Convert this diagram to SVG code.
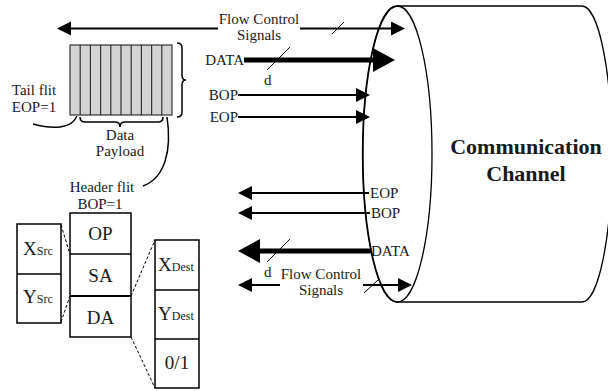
<svg xmlns="http://www.w3.org/2000/svg" width="608" height="391" viewBox="0 0 608 391">
<style>
text{font-family:"Liberation Serif","Times New Roman",serif;fill:#1a1a1a;font-size:15px}
.b{font-weight:bold;font-size:22px}
.m{text-anchor:middle}
.e{text-anchor:end}
.big{font-size:19px}
.sub{font-size:12px}
.ln{stroke:#000;stroke-width:2;fill:none}
.th{stroke:#000;stroke-width:5;fill:none}
.sl{stroke:#000;stroke-width:1;fill:none}
.box{fill:#fff;stroke:#000;stroke-width:1.5}
.dash{stroke:#000;stroke-width:1;stroke-dasharray:3,2;fill:none}
.cv{stroke:#000;stroke-width:1.5;fill:none}
</style>
<defs>
<marker id="ah" markerUnits="userSpaceOnUse" markerWidth="16" markerHeight="16" refX="0" refY="7" orient="auto"><path d="M0,0 L14,7 L0,14 z" fill="#000"/></marker>
<marker id="ahb" markerUnits="userSpaceOnUse" markerWidth="24" markerHeight="24" refX="0" refY="12" orient="auto"><path d="M0,0 L22,12 L0,24 z" fill="#000"/></marker>
</defs>
<g id="channel">
<path d="M397,6 L582,6 A30,148 0 0 1 582,302 L397,302 A34.5,148 0 0 1 397,6 z" fill="#fff" stroke="#000" stroke-width="1.3"/>
<ellipse cx="397.5" cy="154" rx="34.5" ry="148" fill="none" stroke="#000" stroke-width="1.3"/>
<text class="b m" x="526" y="154">Communication</text>
<text class="b m" x="526" y="181">Channel</text>
</g>
<g id="packet">
<rect x="70" y="45" width="102" height="70" fill="#d3d3d3" stroke="#333" stroke-width="1.2"/>
<path d="M80.2,45V115M90.4,45V115M100.6,45V115M110.8,45V115M121,45V115M131.2,45V115M141.4,45V115M151.6,45V115M161.8,45V115" stroke="#333" stroke-width="1.2"/>
<path class="cv" stroke-width="2" d="M177,43 Q182,43 182,48 L182,75 Q182,80 186,80 Q182,80 182,85 L182,112 Q182,117 177,117"/>
<path class="cv" d="M80,117 Q80,122 85,122 L115,122 Q120,122 120,127 Q120,122 125,122 L158,122 Q163,122 163,117"/>
<text class="m" x="120" y="140">Data</text>
<text class="m" x="120" y="156">Payload</text>
</g>
<g id="tail-flit">
<text class="m" x="34" y="95">Tail flit</text>
<text class="m" x="34" y="112">EOP=1</text>
<path class="cv" d="M33,124 C55,130 72,128 77,116"/>
</g>
<g id="header-flit">
<path class="cv" d="M167,117 C172,150 165,178 143,186"/>
<text class="m" x="102" y="192">Header flit</text>
<text class="m" x="100" y="209">BOP=1</text>
</g>
<g id="header-fields">
<rect class="box" x="70" y="213" width="61" height="124"/>
<line x1="70" y1="254" x2="131" y2="254" stroke="#000" stroke-width="1.5"/>
<line x1="70" y1="296" x2="131" y2="296" stroke="#000" stroke-width="2"/>
<text class="m big" x="100.5" y="240">OP</text>
<text class="m big" x="100.5" y="282">SA</text>
<text class="m big" x="100.5" y="324">DA</text>
</g>
<g id="src-fields">
<rect class="box" x="17" y="224" width="44" height="99"/>
<line x1="17" y1="274" x2="61" y2="274" stroke="#000" stroke-width="1.5"/>
<text x="23" y="255" class="big">X<tspan class="sub">Src</tspan></text>
<text x="23" y="303" class="big">Y<tspan class="sub">Src</tspan></text>
</g>
<g id="dest-fields">
<rect class="box" x="155" y="240" width="44" height="148"/>
<line x1="155" y1="290" x2="199" y2="290" stroke="#000" stroke-width="1.5"/>
<line x1="155" y1="339" x2="199" y2="339" stroke="#000" stroke-width="1.5"/>
<text x="158" y="271" class="big">X<tspan class="sub">Dest</tspan></text>
<text x="158" y="320" class="big">Y<tspan class="sub">Dest</tspan></text>
<text class="m big" x="177" y="369">0/1</text>
</g>
<g id="connectors">
<path class="dash" d="M61,225 L70,254 M61,322 L70,296 M131,296 L155,240 M131,337 L155,388"/>
<line class="ln" x1="218" y1="28.5" x2="71" y2="28.5" marker-end="url(#ah)"/>
<line class="ln" x1="300" y1="28.5" x2="391" y2="28.5" marker-end="url(#ah)"/>
<line class="sl" x1="332" y1="34" x2="344" y2="22"/>
<line class="th" x1="244" y1="60" x2="373" y2="60" marker-end="url(#ahb)"/>
<line class="sl" x1="267" y1="70" x2="290" y2="47"/>
<line class="ln" x1="238" y1="95" x2="356" y2="95" marker-end="url(#ah)"/>
<line class="ln" x1="238" y1="117" x2="356" y2="117" marker-end="url(#ah)"/>
<line class="ln" x1="369" y1="193" x2="252" y2="193" marker-end="url(#ah)"/>
<line class="ln" x1="370" y1="213" x2="252" y2="213" marker-end="url(#ah)"/>
<line class="th" x1="371" y1="251" x2="260" y2="251" marker-end="url(#ahb)"/>
<line class="sl" x1="267" y1="262" x2="290" y2="239"/>
<line class="ln" x1="280" y1="285" x2="252" y2="285" marker-end="url(#ah)"/>
<line class="ln" x1="363" y1="285" x2="398" y2="285" marker-end="url(#ah)"/>
<line class="sl" x1="364" y1="293" x2="378" y2="280"/>
<text class="m" x="259" y="24">Flow Control</text>
<text class="m" x="259" y="40">Signals</text>
<text class="e" x="244" y="65">DATA</text>
<text x="264" y="85">d</text>
<text class="e" x="238" y="100">BOP</text>
<text class="e" x="238" y="122">EOP</text>
<text x="370" y="198">EOP</text>
<text x="371" y="218">BOP</text>
<text x="371" y="256">DATA</text>
<text x="264" y="277">d</text>
<text class="m" x="321" y="279">Flow Control</text>
<text class="m" x="321" y="295">Signals</text>
</g>
</svg>
